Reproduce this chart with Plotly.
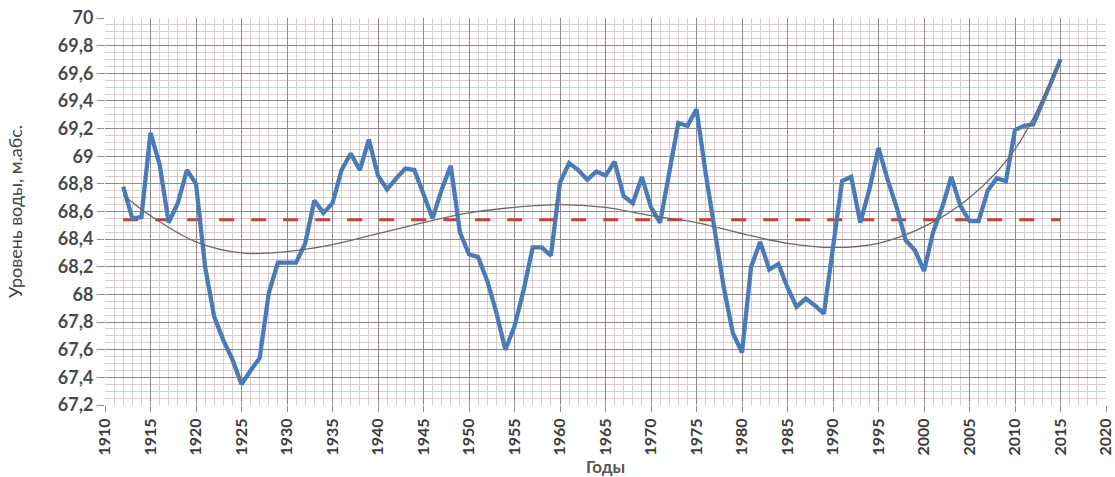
import plotly.graph_objects as go

# Годы наблюдений и уровень воды (м абс.)
years = list(range(1912, 2016))
level = [
    68.78, 68.55, 68.56, 69.17, 68.94, 68.52, 68.66, 68.90, 68.80, 68.20,  # 1912-1921
    67.84, 67.67, 67.53, 67.35, 67.45, 67.54, 68.01, 68.23, 68.23, 68.23,  # 1922-1931
    68.37, 68.68, 68.59, 68.66, 68.90, 69.02, 68.90, 69.12, 68.86, 68.76,  # 1932-1941
    68.84, 68.91, 68.90, 68.73, 68.55, 68.76, 68.93, 68.45, 68.29, 68.27,  # 1942-1951
    68.10, 67.87, 67.60, 67.77, 68.03, 68.34, 68.34, 68.28, 68.81, 68.95,  # 1952-1961
    68.90, 68.83, 68.89, 68.86, 68.96, 68.71, 68.66, 68.85, 68.63, 68.52,  # 1962-1971
    68.90, 69.24, 69.22, 69.34, 68.88, 68.44, 68.05, 67.72, 67.58, 68.20,  # 1972-1981
    68.38, 68.18, 68.22, 68.05, 67.91, 67.97, 67.92, 67.86, 68.37, 68.82,  # 1982-1991
    68.85, 68.52, 68.76, 69.06, 68.83, 68.63, 68.39, 68.32, 68.17, 68.45,  # 1992-2001
    68.63, 68.85, 68.64, 68.53, 68.53, 68.75, 68.84, 68.82, 69.19, 69.22,  # 2002-2011
    69.23, 69.38, 69.54, 69.70,                                            # 2012-2015
]

trend_years = [1912, 1915, 1920, 1925, 1930, 1935, 1940, 1945, 1950, 1955, 1960,
               1965, 1970, 1975, 1980, 1985, 1990, 1995, 2000, 2005, 2010, 2015]
trend_level = [68.72, 68.57, 68.38, 68.30, 68.31, 68.36, 68.44, 68.52, 68.59, 68.63, 68.65,
               68.63, 68.57, 68.52, 68.44, 68.37, 68.34, 68.37, 68.49, 68.70, 69.05, 69.70]

# Среднемноголетний уровень
mean_level = 68.54

x_ticks = list(range(1910, 2021, 5))
y_ticks = [67.2, 67.4, 67.6, 67.8, 68.0, 68.2, 68.4, 68.6, 68.8, 69.0, 69.2, 69.4, 69.6, 69.8, 70.0]
y_labels = ["67,2", "67,4", "67,6", "67,8", "68", "68,2", "68,4", "68,6", "68,8",
            "69", "69,2", "69,4", "69,6", "69,8", "70"]

fig = go.Figure()

fig.add_trace(go.Scatter(
    x=[years[0], years[-1]], y=[mean_level, mean_level], mode="lines",
    line=dict(color="#c9403a", width=3, dash="15px,17px"),
    hoverinfo="skip", showlegend=False,
))

fig.add_trace(go.Scatter(
    x=years, y=level, mode="lines",
    line=dict(color="#4a7bb9", width=4.3),
    showlegend=False,
))

fig.add_trace(go.Scatter(
    x=trend_years, y=trend_level, mode="lines",
    line=dict(color="#6a6a66", width=1.3, shape="spline", smoothing=1.0),
    showlegend=False,
))

fig.update_layout(
    width=1115, height=477,
    margin=dict(l=105, r=9, t=18, b=72),
    paper_bgcolor="white",
    plot_bgcolor="white",
    showlegend=False,
    xaxis=dict(
        range=[1910, 2020], automargin=False,
        tickmode="array", tickvals=x_ticks, ticktext=[str(v) for v in x_ticks],
        tickangle=-90,
        tickfont=dict(family="Lato", size=16, color="#3c3c3c", weight="bold"),
        showgrid=True, gridcolor="#8e8a8a", gridwidth=1,
        ticks="outside", ticklen=6, tickcolor="#8c8c8c",
        minor=dict(tick0=1910, dtick=1, showgrid=True, gridcolor="#d8cccc", gridwidth=1.3),
        zeroline=False, showline=False,
        title=dict(text="Годы", font=dict(family="Lato", size=17, color="#555555", weight="bold"),
                   standoff=8),
    ),
    yaxis=dict(
        range=[67.2, 70.0], automargin=False,
        tickmode="array", tickvals=y_ticks, ticktext=y_labels,
        tickfont=dict(family="Lato", size=18, color="#4a4a4a", weight="bold"),
        showgrid=True, gridcolor="#8e8a8a", gridwidth=1,
        ticks="outside", ticklen=7, tickcolor="#8c8c8c",
        minor=dict(tick0=67.2, dtick=0.05, showgrid=True, gridcolor="#d8cccc", gridwidth=1.3),
        zeroline=False, showline=False,
        title=dict(text="Уровень воды, м.абс.", font=dict(family="Lato", size=18, color="#444444"),
                   standoff=30),
    ),
)

fig.write_html("out.html")
